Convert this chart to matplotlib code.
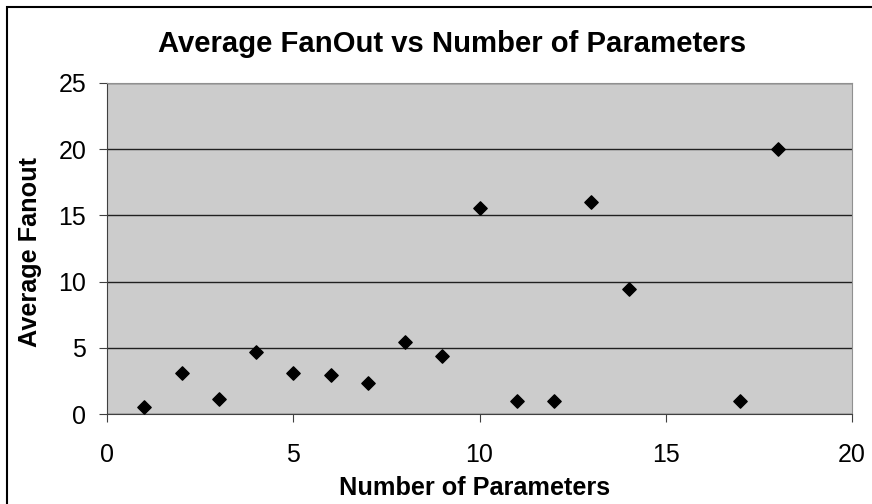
import matplotlib.pyplot as plt
from matplotlib.patches import Rectangle

plt.rcParams['font.family'] = ['Liberation Sans', 'DejaVu Sans']

num_params = [1, 2, 3, 4, 5, 6, 7, 8, 9, 10, 11, 12, 13, 14, 17, 18]
avg_fanout = [0.55, 3.1, 1.15, 4.7, 3.1, 2.95, 2.35, 5.45, 4.4, 15.55, 1.0, 1.0, 16.0, 9.45, 1.0, 20.0]

x_ticks = [0, 5, 10, 15, 20]
y_ticks = [0, 5, 10, 15, 20, 25]


def main():
    fig = plt.figure(figsize=(8.72, 5.04), dpi=100)
    W, H = 872, 504
    # outer chart border (Excel chart area)
    fig.patches.append(Rectangle((7 / W, -0.1), 1.2, (H - 7) / H + 0.1, transform=fig.transFigure,
                                 fill=False, edgecolor='black', linewidth=1.5))

    ax = fig.add_axes([107 / W, 1 - 414 / H, (852 - 107) / W, (414 - 83) / H])
    ax.set_facecolor('#cccccc')
    ax.scatter(num_params, avg_fanout, marker='D', s=46, color='black', zorder=3)

    ax.set_xlim(0, 20)
    ax.set_ylim(0, 25)
    ax.set_xticks(x_ticks)
    ax.set_yticks(y_ticks)
    ax.yaxis.grid(True, color='#202020', linewidth=1)
    ax.set_axisbelow(True)
    for s in ['left', 'bottom']:
        ax.spines[s].set_color('#404040')
    for s in ['right', 'top']:
        ax.spines[s].set_color('#909090')
    ax.tick_params(axis='both', labelsize=18, length=6, color='#404040', direction='out')
    ax.tick_params(axis='x', pad=15)
    ax.tick_params(axis='y', pad=9)

    fig.text(452 / W, 1 - 44 / H, 'Average FanOut vs Number of Parameters', fontsize=21.1,
             fontweight='bold', ha='center', va='center')
    fig.text(475 / W, 1 - 488 / H, 'Number of Parameters', fontsize=18.2, fontweight='bold',
             ha='center', va='center')
    fig.text(30 / W, 1 - 252 / H, 'Average Fanout', fontsize=18.2, fontweight='bold',
             ha='center', va='center', rotation=90)

    fig.savefig('out.png', dpi=100)


if __name__ == '__main__':
    main()
